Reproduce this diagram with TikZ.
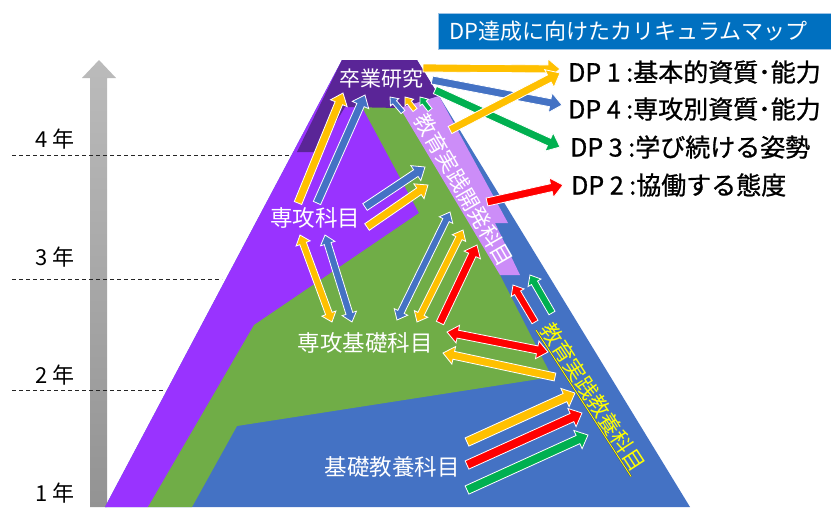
\documentclass[tikz,border=0pt]{standalone}
\usepackage{fontspec}
\setmainfont{Noto Sans CJK JP}
\newfontfamily\dpfont[FakeBold=1]{Noto Sans CJK JP}
\usetikzlibrary{calc}
\definecolor{pBlue}{HTML}{4472C4}
\definecolor{pGreen}{HTML}{70AD47}
\definecolor{pPurple}{HTML}{9933FF}
\definecolor{pDark}{HTML}{5A2597}
\definecolor{pLilac}{HTML}{CC8DF8}
\definecolor{aYellow}{HTML}{FFC000}
\definecolor{aBlue}{HTML}{4472C4}
\definecolor{aGreen}{HTML}{00B050}
\definecolor{aRed}{HTML}{FF0000}
\definecolor{tBlue}{HTML}{0070C0}
\definecolor{tEdge}{HTML}{9DC3E6}
\definecolor{gTop}{HTML}{BBBBBB}
\definecolor{gBot}{HTML}{939393}
\definecolor{yText}{HTML}{FFFF00}

\newcommand\arrW{4}\newcommand\arrH{9}\newcommand\arrL{10}
\newcommand\setarr[3]{\renewcommand\arrW{#1}\renewcommand\arrH{#2}\renewcommand\arrL{#3}}
\newcommand\bkmeasure[1]{%
  \path let \p1=(#1s), \p2=(#1e) in \pgfextra{%
    \pgfmathsetmacro\tmpA{atan2(\y2-\y1,\x2-\x1)}\global\let\bkA\tmpA
    \pgfmathsetmacro\tmpL{veclen(\x2-\x1,\y2-\y1)}\global\let\bkL\tmpL};%
}
% single block arrow: name, colour, start, end
\newcommand\bkarrow[4]{%
  \coordinate (#1s) at (#3);
  \coordinate (#1e) at (#4);
  \bkmeasure{#1}
  \filldraw[blockarrow, fill=#2, shift={(#1s)}, rotate=\bkA, x=1pt, y=1pt]
    (0,-\arrW) -- ({\bkL-\arrL},-\arrW) -- ({\bkL-\arrL},-\arrH) -- (\bkL,0)
    -- ({\bkL-\arrL},\arrH) -- ({\bkL-\arrL},\arrW) -- (0,\arrW) -- cycle;
}
% double block arrow
\newcommand\bkdarrow[4]{%
  \coordinate (#1s) at (#3);
  \coordinate (#1e) at (#4);
  \bkmeasure{#1}
  \filldraw[blockarrow, fill=#2, shift={(#1s)}, rotate=\bkA, x=1pt, y=1pt]
    (0,0) -- (\arrL,-\arrH) -- (\arrL,-\arrW) -- ({\bkL-\arrL},-\arrW) -- ({\bkL-\arrL},-\arrH) -- (\bkL,0)
    -- ({\bkL-\arrL},\arrH) -- ({\bkL-\arrL},\arrW) -- (\arrL,\arrW) -- (\arrL,\arrH) -- cycle;
}

\tikzset{
  blockarrow/.style={draw=white, line width=0.8pt, line join=miter},
  lab/.style={text=white, font=\fontsize{22.5}{26}\selectfont, inner sep=0pt},
  dp/.style={text=black, font=\dpfont\fontsize{25}{30}\selectfont, inner sep=0pt, anchor=west},
  yr/.style={text=black, font=\fontsize{22}{26}\selectfont, inner sep=0pt, anchor=west},
  yrline/.style={black!85, line width=0.8pt, dash pattern=on 4pt off 3pt},
}

\begin{document}
\begin{tikzpicture}[x=1pt,y=-1pt]
\fill[white] (0,0) rectangle (831,507);
\useasboundingbox (0,0) rectangle (831,507);

% time axis
\shade[top color=gTop, bottom color=gBot]
  (90,507) -- (90,78) -- (82,78) -- (99,60) -- (116,78) -- (107,78) -- (107,507) -- cycle;
\draw[yrline] (12,155) -- (300,155);
\draw[yrline] (12,279) -- (222,279);
\draw[yrline] (12,390) -- (166,390);
\node[yr] (y4) at (35,139) {4 年};
\node[yr] (y3) at (35,257) {3 年};
\node[yr] (y2) at (35,375) {2 年};
\node[yr] (y1) at (35,493) {1 年};

% pyramid
\fill[pBlue] (105,507) -- (342,60) -- (417,60) -- (690,507) -- cycle;
\fill[pPurple] (105,507) -- (342,60) -- (417,60) -- (419,213) -- (148,507) -- cycle;
\fill[pGreen] (362,107) -- (405,107) -- (500,275) -- (552,377) -- (237,426) -- (192,507)
  -- (148,507) -- (254,325) -- (419,213) -- cycle;
\fill[pDark] (297,152) -- (342,60) -- (417,60) -- (439,96) -- (400,108) -- (345,107) -- (318,152) -- cycle;
\fill[pLilac] (400,108) -- (439,96) -- (508,223) -- (495,223) -- (520,275) -- (500,275) -- cycle;

% arrows to DP
\setarr{4}{10}{12}
\bkarrow{a1}{aYellow}{423,68}{560,69}
\bkarrow{a2}{aBlue}{432,80}{562,105}
\bkarrow{a3}{aGreen}{435,90}{560,147}
\bkarrow{a4}{aYellow}{450,130}{560,73}
\bkarrow{a5}{aRed}{487,202}{563,185}
% into graduation research
\setarr{4}{9}{11}
\bkarrow{a6}{aYellow}{298,203}{343,93}
\bkarrow{a7}{aBlue}{317,203}{365,95}
\setarr{2.5}{5.5}{7}
\bkarrow{a8}{aBlue}{403,112}{390,97}
\bkarrow{a9}{aYellow}{415,110}{405,97}
\bkarrow{a10}{aGreen}{430,110}{420,97}
% major subjects -> practice dev
\setarr{4}{9}{11}
\bkarrow{a11}{aBlue}{365,207}{425,167}
\bkarrow{a12}{aYellow}{367,227}{428,185}
% major <-> basic major
\setarr{3.5}{7.5}{9}
\bkdarrow{a13}{aYellow}{300,235}{332,322}
\bkdarrow{a14}{aBlue}{325,235}{352,322}
\bkdarrow{a15}{aBlue}{397,320}{450,212}
\bkdarrow{a16}{aYellow}{417,322}{463,230}
\setarr{4}{9}{11}
\bkarrow{a17}{aRed}{440,323}{477,245}
\setarr{3.5}{7.5}{9}
\bkarrow{a18}{aRed}{535,322}{513,285}
\bkarrow{a19}{aGreen}{552,313}{530,275}
\setarr{4}{9}{11}
\bkdarrow{a20}{aRed}{447,332}{548,352}
\bkarrow{a21}{aYellow}{555,377}{443,353}
\setarr{4.5}{10}{11}
\bkarrow{a22}{aYellow}{467,442}{575,393}
\bkarrow{a23}{aRed}{467,465}{582,413}
\bkarrow{a24}{aGreen}{467,490}{588,435}

% labels
\node[lab, font=\fontsize{21}{24}\selectfont] (sotsu) at (381,79) {卒業研究};
\node[lab] (senko) at (315,218) {専攻科目};
\node[lab] (kiso) at (365,343) {専攻基礎科目};
\node[lab] (kyoyo) at (392,467) {基礎教養科目};
\node[lab, font=\fontsize{21.5}{24}\selectfont, rotate=-60] (kaihatsu) at (464,190) {教育実践開発科目};
\node[lab, text=yText, font=\fontsize{21.5}{24}\selectfont, rotate=-57, inner sep=1.2pt] (jissen) at (593,397) {教育実践教養科目};
\draw[black!70, line width=1.8pt] (jissen.south west) -- (jissen.south east);
\draw[yText, line width=0.9pt] (jissen.south west) -- (jissen.south east);

% DP
\node[dp] (dp1) at (568,72) {DP 1 :基本的資質･能力};
\node[dp] (dp4) at (568,109) {DP 4 :専攻別資質･能力};
\node[dp] (dp3) at (570,147) {DP 3 :学び続ける姿勢};
\node[dp] (dp2) at (571,185) {DP 2 :協働する態度};

% title
\node[fill=tBlue, draw=tEdge, line width=1pt, anchor=west, minimum height=36pt,
      text width=380pt, inner xsep=11pt, align=left, text=white,
      font=\fontsize{22}{26}\selectfont] (title) at (438,31) {DP達成に向けたカリキュラムマップ};
\end{tikzpicture}
\end{document}
